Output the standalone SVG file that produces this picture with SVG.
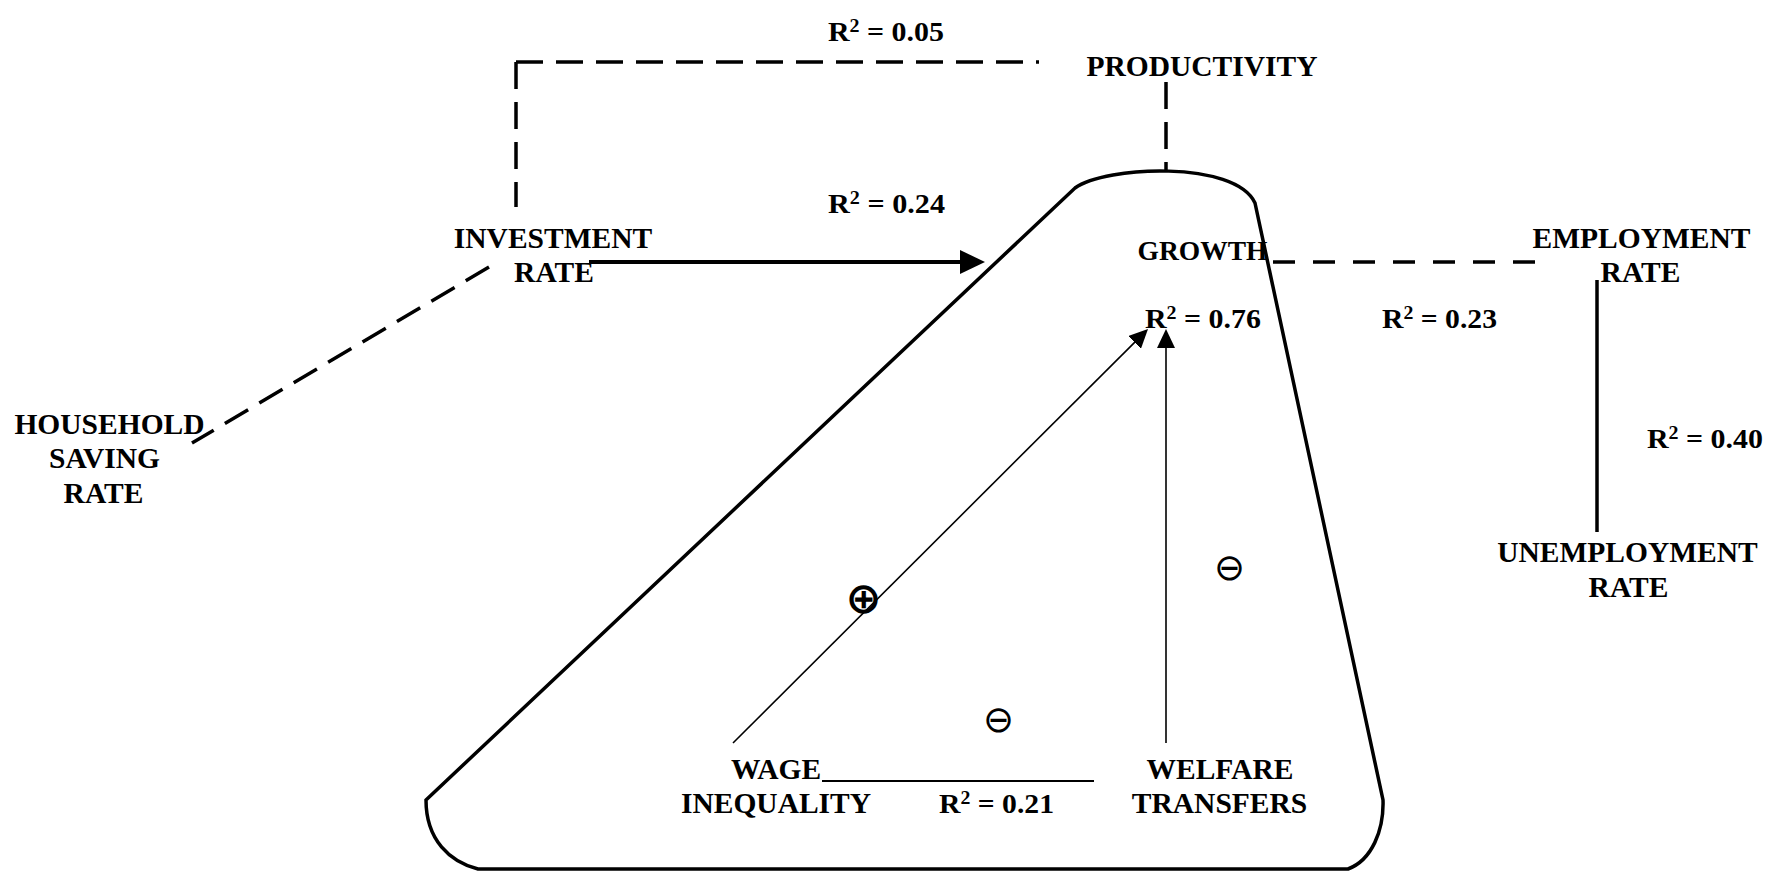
<svg xmlns="http://www.w3.org/2000/svg" width="1769" height="871" viewBox="0 0 1769 871">
<style>
.lbl{font-family:"Liberation Serif","Times New Roman",serif;font-weight:bold;font-size:29.5px;fill:#000;text-anchor:middle}
.r2{font-family:"Liberation Serif","Times New Roman",serif;font-weight:bold;font-size:27px;fill:#000}
.sup{font-size:18px}
.dash{fill:none;stroke:#000;stroke-width:3.5;stroke-dasharray:27 13}
.dash2{fill:none;stroke:#000;stroke-width:3.5;stroke-dasharray:22 18}
.solid{fill:none;stroke:#000;stroke-width:3.5}
.thin{fill:none;stroke:#000;stroke-width:1.6}
.sym{font-family:"DejaVu Sans",sans-serif;fill:#000;text-anchor:middle}
.minus{font-size:37px;font-weight:200}
</style>
<defs>
<marker id="bigArrow" markerUnits="userSpaceOnUse" markerWidth="25" markerHeight="24" viewBox="0 0 25 24" refX="5" refY="12" orient="auto">
<path d="M0,0 L25,12 L0,24 Z" fill="#000"/>
</marker>
<marker id="smallArrow" markerUnits="userSpaceOnUse" markerWidth="19" markerHeight="18" viewBox="0 0 19 18" refX="4" refY="9" orient="auto">
<path d="M0,0 L19,9 L0,18 Z" fill="#000"/>
</marker>
</defs>

<g id="n-growth">
<path class="solid" d="M1075,188 C1105,166 1235,160 1255,203 L1383,800 C1384,830 1372,860 1348,869 L478,869 C450,862 426,840 426,800 Z"/>
<text class="lbl" x="1202.5" y="260" style="font-size:27.5px">GROWTH</text>
</g>

<g id="n-productivity">
<text class="lbl" x="1202" y="76">PRODUCTIVITY</text>
</g>

<g id="n-investment">
<text class="lbl" x="553" y="248">INVESTMENT</text>
<text class="lbl" x="554" y="282">RATE</text>
</g>

<g id="n-household">
<text class="lbl" x="109.5" y="434">HOUSEHOLD</text>
<text class="lbl" x="104.5" y="468">SAVING</text>
<text class="lbl" x="103.5" y="503">RATE</text>
</g>

<g id="n-employment">
<text class="lbl" x="1641.5" y="248">EMPLOYMENT</text>
<text class="lbl" x="1640.5" y="282">RATE</text>
</g>

<g id="n-unemployment">
<text class="lbl" x="1627.5" y="562">UNEMPLOYMENT</text>
<text class="lbl" x="1628.5" y="597">RATE</text>
</g>

<g id="n-wage">
<text class="lbl" x="776" y="779">WAGE</text>
<text class="lbl" x="776" y="813">INEQUALITY</text>
</g>

<g id="n-welfare">
<text class="lbl" x="1220" y="779">WELFARE</text>
<text class="lbl" x="1219.5" y="813">TRANSFERS</text>
</g>

<g id="connectors">
<path class="dash" d="M516,62 L1039,62"/>
<path class="dash" d="M516,62 L516,207"/>
<path class="dash" d="M1166,82 L1166,171"/>
<path class="dash" d="M489,267 L192,443"/>
<path class="dash2" d="M1273,262 L1537,262"/>
<path class="solid" d="M1597,280 L1597,532"/>
<path class="solid" style="stroke-width:4" d="M589,262 L965,262" marker-end="url(#bigArrow)"/>
<path class="thin" d="M733,743 L1137.4,339.6" marker-end="url(#smallArrow)"/>
<path class="thin" d="M1166,743 L1166,344" marker-end="url(#smallArrow)"/>
<path class="thin" style="stroke-width:2" d="M822,781 L1094,781"/>
</g>

<g id="edge-labels">
<text class="r2" x="828" y="41" textLength="116" lengthAdjust="spacingAndGlyphs">R<tspan class="sup" dy="-9">2</tspan><tspan dy="9"> = 0.05</tspan></text>
<text class="r2" x="828" y="213" textLength="117" lengthAdjust="spacingAndGlyphs">R<tspan class="sup" dy="-9">2</tspan><tspan dy="9"> = 0.24</tspan></text>
<text class="r2" x="1145" y="328" textLength="116" lengthAdjust="spacingAndGlyphs">R<tspan class="sup" dy="-9">2</tspan><tspan dy="9"> = 0.76</tspan></text>
<text class="r2" x="1382" y="328" textLength="115" lengthAdjust="spacingAndGlyphs">R<tspan class="sup" dy="-9">2</tspan><tspan dy="9"> = 0.23</tspan></text>
<text class="r2" x="1647" y="448" textLength="116" lengthAdjust="spacingAndGlyphs">R<tspan class="sup" dy="-9">2</tspan><tspan dy="9"> = 0.40</tspan></text>
<text class="r2" x="939" y="813" textLength="115" lengthAdjust="spacingAndGlyphs">R<tspan class="sup" dy="-9">2</tspan><tspan dy="9"> = 0.21</tspan></text>
</g>

<g id="signs">
<text class="sym" x="863.5" y="612.5" style="font-size:43px;font-weight:bold">⊕</text>
<text class="sym minus" x="998" y="731.5">⊖</text>
<text class="sym minus" x="1229" y="580">⊖</text>
</g>
</svg>
